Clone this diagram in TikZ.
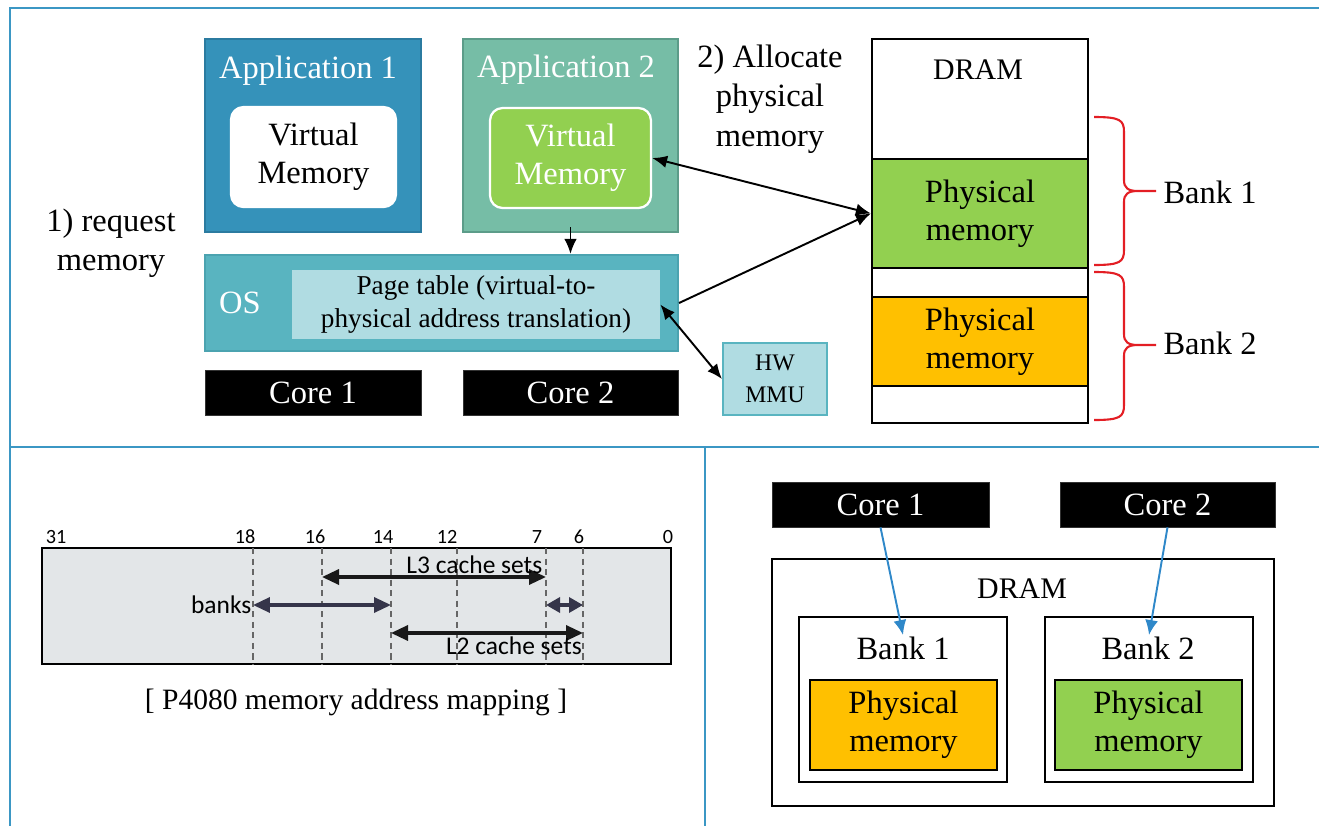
\documentclass[tikz,border=0pt]{standalone}
\usepackage{fontspec}
\setmainfont{Liberation Serif}
\newfontfamily\bitfont{Carlito}
\usepackage{xcolor}
\usetikzlibrary{arrows.meta, positioning, calc}

\definecolor{framecol}{HTML}{3B97C4}
\definecolor{appone}{HTML}{3592BA}
\definecolor{apponeedge}{HTML}{2B7BA0}
\definecolor{apptwo}{HTML}{76BDA6}
\definecolor{apptwoedge}{HTML}{5C9C89}
\definecolor{memgreen}{HTML}{92D050}
\definecolor{memorange}{HTML}{FFC000}
\definecolor{oscol}{HTML}{59B4C0}
\definecolor{osedge}{HTML}{4BA3B0}
\definecolor{lightcyan}{HTML}{B0DCE2}
\definecolor{bitgrey}{HTML}{E3E6E8}
\definecolor{bankscol}{HTML}{35354A}
\definecolor{corearrowcol}{HTML}{2F88C9}
\definecolor{bracered}{HTML}{E31E24}

\newcommand{\bigtxt}{\fontsize{18.5}{21.5}\selectfont}
\newcommand{\notetxt}{\fontsize{18.5}{22.5}\selectfont}
\newcommand{\dramtxt}{\fontsize{17}{20}\selectfont}
\newcommand{\midtxt}{\fontsize{15.5}{18.7}\selectfont}
\newcommand{\mmutxt}{\fontsize{13.5}{18}\selectfont}
\newcommand{\captxt}{\fontsize{16.8}{20}\selectfont}
\newcommand{\bittxt}{\bitfont\fontsize{14.5}{17}\selectfont}
\newcommand{\numtxt}{\bitfont\fontsize{11.5}{13}\selectfont}

\begin{document}
\begin{tikzpicture}[x=0.02cm, y=-0.02cm,
    frame/.style={draw=framecol, line width=1.3pt},
    appbox/.style={rectangle, line width=1.2pt, minimum width=4.32cm, minimum height=3.86cm},
    apptitle/.style={text=white, font=\bigtxt},
    vmbox/.style={rectangle, rounded corners=0.25cm, line width=1.3pt, minimum height=2cm, align=center, font=\bigtxt},
    corebox/.style={rectangle, fill=black, draw=black!80, text=white, font=\bigtxt, minimum height=0.89cm},
    cellbox/.style={rectangle, draw, line width=1.3pt, minimum width=4.32cm, align=center, font=\bigtxt},
    bankbox/.style={rectangle, draw, line width=1.1pt, minimum width=4.16cm, minimum height=3.3cm},
    membox/.style={rectangle, draw, line width=1.3pt, minimum width=3.74cm, minimum height=1.8cm, align=center, font=\bigtxt},
    note/.style={align=center, font=\notetxt},
    arrow/.style={-{Latex[length=3mm, width=2.5mm]}, line width=1.1pt},
    dblarrow/.style={{Latex[length=3mm, width=2.5mm]}-{Latex[length=3mm, width=2.5mm]}, line width=1.1pt},
    corearrow/.style={-{Latex[length=3mm, width=2.6mm]}, line width=1.1pt, draw=corearrowcol, fill=corearrowcol},
    bitline/.style={dashed, dash pattern=on 3.5pt off 2.5pt, draw=black!60, line width=0.9pt},
    bitarrow/.style={{Triangle[length=3.4mm, width=3mm]}-{Triangle[length=3.4mm, width=3mm]}, line width=1.9pt},
    shortbitarrow/.style={{Triangle[length=2.8mm, width=3mm]}-{Triangle[length=2.8mm, width=3mm]}, line width=1.9pt},
    bankbrace/.style={draw=bracered, line width=1.2pt}
]
\useasboundingbox (0,0) rectangle (1319,826);

\draw[frame] (1319,8) -- (10,8) -- (10,826);
\draw[frame] (10,447) -- (1319,447);
\draw[frame] (705,447) -- (705,826);

\node[appbox, fill=appone, draw=apponeedge] (app1) at (313,135.5) {};
\node[apptitle] (app1title) at (308,71) {Application 1};
\node[vmbox, fill=white, draw=white, minimum width=3.3cm] (vm1) at (313.5,157) {Virtual\\Memory};

\node[appbox, fill=apptwo, draw=apptwoedge, minimum width=4.3cm] (app2) at (570.5,135.5) {};
\node[apptitle] (app2title) at (566,70) {Application 2};
\node[vmbox, fill=memgreen, draw=white, text=white, minimum width=3.22cm] (vm2) at (570.5,158) {Virtual\\Memory};

\node[note] (step1) at (111,243) {1) request\\memory};
\node[note] (step2) at (770,99) {2) Allocate\\physical\\memory};

\node[rectangle, fill=oscol, draw=osedge, line width=1.2pt, minimum width=9.46cm, minimum height=1.92cm] (os) at (441.5,303) {};
\node[text=white, font=\bigtxt] (oslbl) at (240,303) {OS};
\node[rectangle, fill=lightcyan, minimum width=7.36cm, minimum height=1.38cm, align=center, font=\midtxt] (pagetable) at (476,304.5) {Page table (virtual-to-\\physical address translation)};

\node[corebox, minimum width=4.32cm] (core1) at (313,393) {Core 1};
\node[corebox, minimum width=4.3cm] (core2) at (570.5,393) {Core 2};

\node[rectangle, fill=lightcyan, draw=oscol, line width=1.2pt, minimum width=2.08cm, minimum height=1.44cm, align=center, font=\mmutxt] (mmu) at (775,379) {HW\\MMU};

\node[cellbox, minimum height=2.4cm] (dramtop) at (980,99) {};
\node[font=\dramtxt] (dramlbl) at (978,70) {DRAM};
\node[cellbox, fill=memgreen, minimum height=2.18cm] (pm1) at (980,213.5) {Physical\\memory};
\node[cellbox, minimum height=0.58cm] (gap1) at (980,282.5) {};
\node[cellbox, fill=memorange, minimum height=1.78cm] (pm2) at (980,341.5) {Physical\\memory};
\node[cellbox, minimum height=0.74cm] (gap2) at (980,404.5) {};

\foreach \top/\tip/\bot in {117/191/265, 272/345/420}
  \draw[bankbrace] (1094,\top) .. controls (1120,\top) and (1124,\top+3) .. (1124,\top+15)
    -- (1124,\tip-11) .. controls (1124,\tip-3) and (1128,\tip) .. (1138,\tip) -- (1156,\tip)
    -- (1138,\tip) .. controls (1128,\tip) and (1124,\tip+3) .. (1124,\tip+11)
    -- (1124,\bot-15) .. controls (1124,\bot-3) and (1120,\bot) .. (1094,\bot);
\node[note] (bank1lbl) at (1210,192) {Bank 1};
\node[note] (bank2lbl) at (1210,343) {Bank 2};

\draw[arrow] ([yshift=0.12cm]app2.south) -- (app2.south |- os.north);
\draw[dblarrow] (vm2.east) -- (pm1.west);
\draw[arrow] (os.east) -- (pm1.west);
\draw[dblarrow] (pagetable.east) -- (mmu.west);

\node[rectangle, fill=bitgrey, draw=black, line width=1.3pt, minimum width=12.58cm, minimum height=2.32cm] (bitbox) at (356.5,606) {};
\foreach \n/\lx in {31/56, 18/245, 16/315, 14/383, 12/447, 7/537, 6/579, 0/668}
  \node[font=\numtxt, anchor=south, inner sep=1pt] (n\n) at (\lx,546) {\n};
\foreach \n/\bx in {18/253, 16/322, 14/391, 12/457, 7/546, 6/583} {
  \coordinate (b\n) at (\bx,548);
  \draw[bitline] (b\n) -- ++(0,116);
}
\draw[bitarrow, draw=black!90] ([yshift=-0.58cm]b16) -- node[above, pos=0.68, inner sep=1pt, font=\bittxt] {L3 cache sets} ([yshift=-0.58cm]b7);
\draw[bitarrow, draw=bankscol] ([yshift=-1.14cm]b18) -- node[pos=0, left, inner sep=0pt, font=\bittxt] {banks} ([yshift=-1.14cm]b14);
\draw[shortbitarrow, draw=bankscol] ([yshift=-1.14cm]b7) -- ([yshift=-1.14cm]b6);
\draw[bitarrow, draw=black!90] ([yshift=-1.7cm]b14) -- node[below, pos=0.64, inner sep=1pt, font=\bittxt] {L2 cache sets} ([yshift=-1.7cm]b6);
\node[font=\captxt] (caption) at (356,702) {[ P4080 memory address mapping ]};

\node[corebox, minimum width=4.34cm, minimum height=0.9cm] (core3) at (880.5,504.5) {Core 1};
\node[corebox, minimum width=4.3cm, minimum height=0.9cm] (core4) at (1167.5,504.5) {Core 2};
\node[rectangle, draw, line width=1.3pt, minimum width=10.04cm, minimum height=4.94cm] (dram2) at (1023,682.5) {};
\node[font=\dramtxt] (dram2lbl) at (1022,589) {DRAM};
\node[bankbox] (bank1) at (903,699.5) {};
\node[note] (bank1name) at (903,648) {Bank 1};
\node[membox, fill=memorange] (pmb1) at (903.5,725) {Physical\\memory};
\node[bankbox] (bank2) at (1149,699.5) {};
\node[note] (bank2name) at (1148,648) {Bank 2};
\node[membox, fill=memgreen] (pmb2) at (1148.5,725) {Physical\\memory};

\draw[corearrow] (core3.south) -- ([yshift=-0.38cm]bank1.north);
\draw[corearrow] (core4.south) -- ([yshift=-0.38cm]bank2.north);
\end{tikzpicture}
\end{document}
